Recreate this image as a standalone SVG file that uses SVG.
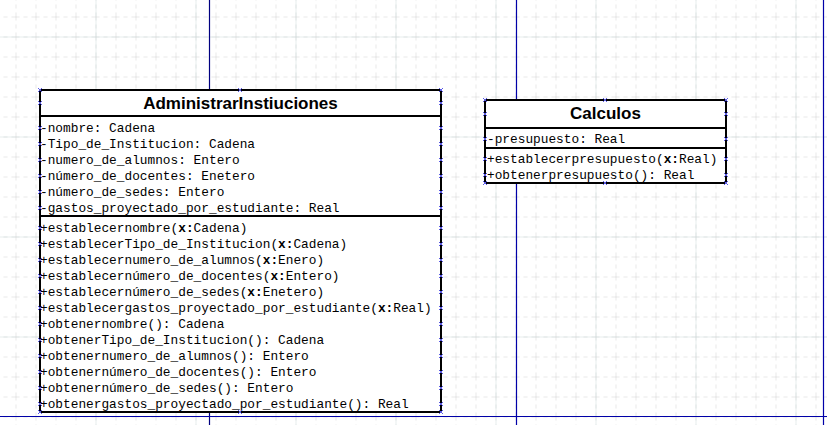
<svg xmlns="http://www.w3.org/2000/svg" width="827" height="425" viewBox="0 0 827 425">
<defs>
<style>
.minor{stroke:#d2d2d2;stroke-width:1;stroke-dasharray:4 4}
.major{stroke:#cddcdc;stroke-width:1}
.page{stroke:#0000a8;stroke-width:1.2}
.box{fill:#fff;stroke:#000;stroke-width:2}
.sep{stroke:#000;stroke-width:2}
.title{font-family:"Liberation Sans",Arial,sans-serif;font-weight:bold;font-size:17px;fill:#000;text-anchor:middle}
.mono{font-family:"Liberation Mono","Courier New",monospace;font-size:12.8px;fill:#000}
.b{font-weight:bold}
.h{stroke:#5a5ae6;stroke-width:1;fill:none}
</style>
<path id="hx" class="h" d="M-2,-2L2,2M-2,2L2,-2"/>
<pattern id="gminor" x="15.5" y="16.5" width="20" height="20" patternUnits="userSpaceOnUse">
<path d="M0,0V20M0,0H20" class="minor"/>
</pattern>
<pattern id="gmajor" x="95.5" y="36.5" width="100" height="100" patternUnits="userSpaceOnUse">
<path d="M0,0V100M0,0H100" class="major"/>
</pattern>
</defs>
<g id="background">
<rect width="827" height="425" fill="#fff"/>
<rect width="827" height="425" fill="url(#gminor)"/>
<rect width="827" height="425" fill="url(#gmajor)"/>
<line x1="209.5" y1="0" x2="209.5" y2="425" stroke="#000080" stroke-width="1.2"/>
<line class="page" x1="516.5" y1="0" x2="516.5" y2="425"/>
<line class="page" x1="823.5" y1="0" x2="823.5" y2="425"/>
<line class="page" x1="0" y1="416.5" x2="827" y2="416.5"/>
</g>
<g id="connectors"></g>
<g id="AdministrarInstiuciones">
<rect class="box" x="40" y="90" width="401" height="322"/>
<line class="sep" x1="40" y1="116" x2="441" y2="116"/>
<line class="sep" x1="40" y1="216" x2="441" y2="216"/>
<text class="title" x="240.5" y="109">AdministrarInstiuciones</text>
<text class="mono" x="40" y="132">-nombre: Cadena</text>
<text class="mono" x="40" y="148">-Tipo_de_Institucion: Cadena</text>
<text class="mono" x="40" y="164">-numero_de_alumnos: Entero</text>
<text class="mono" x="40" y="180">-número_de_docentes: Enetero</text>
<text class="mono" x="40" y="196">-número_de_sedes: Entero</text>
<text class="mono" x="40" y="212">-gastos_proyectado_por_estudiante: Real</text>
<text class="mono" x="40" y="232">+establecernombre(<tspan class="b">x:</tspan>Cadena)</text>
<text class="mono" x="40" y="248">+establecerTipo_de_Institucion(<tspan class="b">x:</tspan>Cadena)</text>
<text class="mono" x="40" y="264">+establecernumero_de_alumnos(<tspan class="b">x:</tspan>Enero)</text>
<text class="mono" x="40" y="280">+establecernúmero_de_docentes(<tspan class="b">x:</tspan>Entero)</text>
<text class="mono" x="40" y="296">+establecernúmero_de_sedes(<tspan class="b">x:</tspan>Enetero)</text>
<text class="mono" x="40" y="312">+establecergastos_proyectado_por_estudiante(<tspan class="b">x:</tspan>Real)</text>
<text class="mono" x="40" y="328">+obtenernombre(): Cadena</text>
<text class="mono" x="40" y="344">+obtenerTipo_de_Institucion(): Cadena</text>
<text class="mono" x="40" y="360">+obtenernumero_de_alumnos(): Entero</text>
<text class="mono" x="40" y="376">+obtenernúmero_de_docentes(): Entero</text>
<text class="mono" x="40" y="392">+obtenernúmero_de_sedes(): Entero</text>
<text class="mono" x="40" y="408">+obtenergastos_proyectado_por_estudiante(): Real</text>
<use href="#hx" x="40" y="90"/><use href="#hx" x="240" y="90"/><use href="#hx" x="441" y="90"/>
<use href="#hx" x="40" y="412"/><use href="#hx" x="240" y="412"/><use href="#hx" x="441" y="412"/>
<use href="#hx" x="40" y="103"/><use href="#hx" x="441" y="103"/>
<use href="#hx" x="40" y="128"/><use href="#hx" x="441" y="128"/>
<use href="#hx" x="40" y="144"/><use href="#hx" x="441" y="144"/>
<use href="#hx" x="40" y="160"/><use href="#hx" x="441" y="160"/>
<use href="#hx" x="40" y="176"/><use href="#hx" x="441" y="176"/>
<use href="#hx" x="40" y="192"/><use href="#hx" x="441" y="192"/>
<use href="#hx" x="40" y="208"/><use href="#hx" x="441" y="208"/>
<use href="#hx" x="40" y="228"/><use href="#hx" x="441" y="228"/>
<use href="#hx" x="40" y="244"/><use href="#hx" x="441" y="244"/>
<use href="#hx" x="40" y="260"/><use href="#hx" x="441" y="260"/>
<use href="#hx" x="40" y="276"/><use href="#hx" x="441" y="276"/>
<use href="#hx" x="40" y="292"/><use href="#hx" x="441" y="292"/>
<use href="#hx" x="40" y="308"/><use href="#hx" x="441" y="308"/>
<use href="#hx" x="40" y="324"/><use href="#hx" x="441" y="324"/>
<use href="#hx" x="40" y="340"/><use href="#hx" x="441" y="340"/>
<use href="#hx" x="40" y="356"/><use href="#hx" x="441" y="356"/>
<use href="#hx" x="40" y="372"/><use href="#hx" x="441" y="372"/>
<use href="#hx" x="40" y="388"/><use href="#hx" x="441" y="388"/>
<use href="#hx" x="40" y="404"/><use href="#hx" x="441" y="404"/>
</g>
<g id="Calculos">
<rect class="box" x="485" y="100" width="241" height="83"/>
<line class="sep" x1="485" y1="128" x2="726" y2="128"/>
<line class="sep" x1="485" y1="148" x2="726" y2="148"/>
<text class="title" x="605.5" y="119">Calculos</text>
<text class="mono" x="487" y="143">-presupuesto: Real</text>
<text class="mono" x="487" y="163">+establecerpresupuesto(<tspan class="b">x:</tspan>Real)</text>
<text class="mono" x="487" y="179">+obtenerpresupuesto(): Real</text>
<use href="#hx" x="485" y="100"/><use href="#hx" x="605" y="100"/><use href="#hx" x="726" y="100"/>
<use href="#hx" x="485" y="183"/><use href="#hx" x="605" y="183"/><use href="#hx" x="726" y="183"/>
<use href="#hx" x="485" y="114"/><use href="#hx" x="726" y="114"/>
<use href="#hx" x="485" y="139"/><use href="#hx" x="726" y="139"/>
<use href="#hx" x="485" y="159"/><use href="#hx" x="726" y="159"/>
<use href="#hx" x="485" y="175"/><use href="#hx" x="726" y="175"/>
</g>
</svg>
